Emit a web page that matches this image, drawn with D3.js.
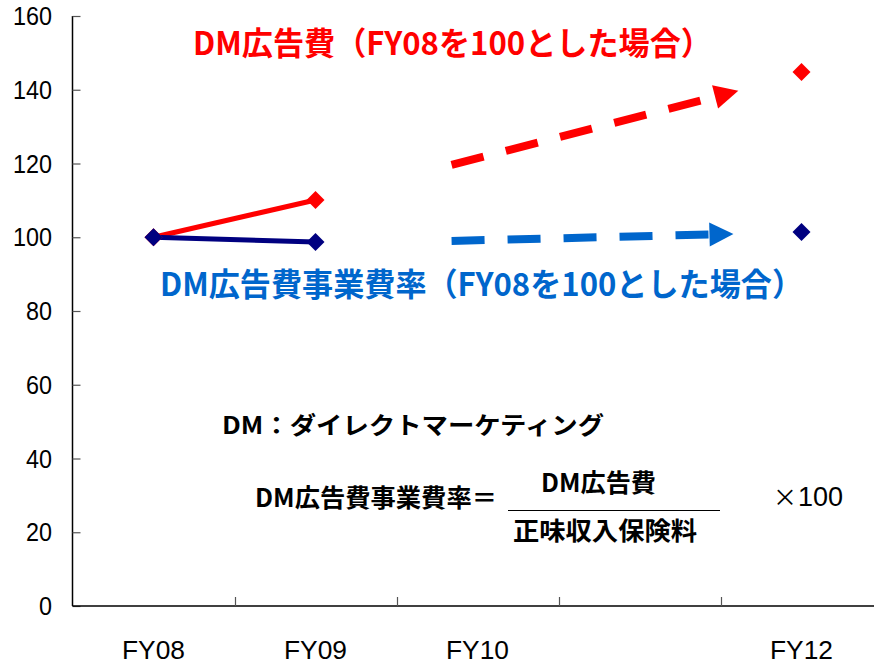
<!DOCTYPE html>
<html>
<head>
<meta charset="utf-8">
<script src="https://cdn.jsdelivr.net/npm/d3@7/dist/d3.min.js"></script>
<style>
  html, body { margin: 0; padding: 0; background: #fff; }
  svg { display: block; }
  .jp { font-family: "Noto Sans CJK JP", "Noto Sans", sans-serif; font-weight: 700; }
  .num { font-family: "Liberation Sans", Arial, sans-serif; }
</style>
</head>
<body>
<svg id="chart" width="874" height="665"></svg>
<script>
// Fiscal years on the x axis (FY11 slot is left unlabelled)
const years = ["FY08", "FY09", "FY10", "FY11", "FY12"];
const yearLabels = ["FY08", "FY09", "FY10", "", "FY12"];
const yTicks = [0, 20, 40, 60, 80, 100, 120, 140, 160];

// DM advertising cost, FY08 = 100
const adCostYears = ["FY08", "FY09"];
const adCost = [100, 110.1];
const adCostTargetYear = "FY12";
const adCostTarget = 144.8;

// DM advertising cost / operating expense ratio, FY08 = 100
const ratioYears = ["FY08", "FY09"];
const ratio = [100, 98.7];
const ratioTargetYear = "FY12";
const ratioTarget = 101.4;

// Trend arrows: [start index, start value, tip index, tip value]
const adCostArrow = [1.84, 119.6, 3.61, 139.7];
const ratioArrow = [1.84, 99.0, 3.58, 100.9];

const svg = d3.select("#chart");

const x = d3.scaleBand().domain(years).range([72.5, 882.5]);
const xi = d3.scaleLinear().domain([-0.5, years.length - 0.5]).range([72.5, 882.5]);
const y = d3.scaleLinear().domain([0, 160]).range([606, 16]);
const cx = yr => x(yr) + x.bandwidth() / 2;

// Axes
const yAxis = svg.append("g").attr("transform", "translate(72.5,0)")
  .call(d3.axisRight(y).tickValues(yTicks).tickSize(8).tickFormat(""));
yAxis.select(".domain").attr("d", `M0,${y(160)}V${y(0)}`).attr("stroke", "#000").attr("stroke-width", 1.5);
yAxis.selectAll(".tick line").attr("stroke", "#555").attr("stroke-width", 1.2);

svg.append("g").selectAll("text").data(yTicks).join("text")
  .attr("class", "num")
  .attr("x", 52).attr("y", d => y(d))
  .attr("dy", "0.36em")
  .attr("text-anchor", "end")
  .attr("font-size", 25)
  .attr("fill", "#000")
  .attr("textLength", d => String(d).length * 13)
  .attr("lengthAdjust", "spacingAndGlyphs")
  .text(d => d);

const bounds = years.slice(1).map(yr => x(yr));
svg.append("line")
  .attr("x1", 72.5).attr("x2", 874).attr("y1", y(0)).attr("y2", y(0))
  .attr("stroke", "#000").attr("stroke-width", 1.5);
svg.append("g").selectAll("line").data(bounds).join("line")
  .attr("x1", d => Math.round(d) + 0.5).attr("x2", d => Math.round(d) + 0.5)
  .attr("y1", y(0)).attr("y2", y(0) - 9)
  .attr("stroke", "#555").attr("stroke-width", 1.2);

svg.append("g").selectAll("text").data(years.filter((d, i) => yearLabels[i])).join("text")
  .attr("class", "num")
  .attr("x", d => cx(d)).attr("y", 650)
  .attr("dy", "0.36em")
  .attr("text-anchor", "middle")
  .attr("font-size", 25)
  .attr("fill", "#000")
  .attr("textLength", 63)
  .attr("lengthAdjust", "spacingAndGlyphs")
  .text(d => yearLabels[years.indexOf(d)]);

// Solid lines for actuals
const line = d3.line().x(d => cx(d[0])).y(d => y(d[1]));
svg.append("path")
  .datum(adCostYears.map((yr, i) => [yr, adCost[i]]))
  .attr("d", line).attr("fill", "none").attr("stroke", "#ff0000").attr("stroke-width", 5);
svg.append("path")
  .datum(ratioYears.map((yr, i) => [yr, ratio[i]]))
  .attr("d", line).attr("fill", "none").attr("stroke", "#000080").attr("stroke-width", 5);

// Diamond markers
const diamond = r => `M0,${-r}L${r},0L0,${r}L${-r},0Z`;
function markers(yrs, vals, color) {
  svg.append("g").selectAll("path").data(yrs.map((yr, i) => [yr, vals[i]])).join("path")
    .attr("d", diamond(9))
    .attr("transform", d => `translate(${cx(d[0])},${y(d[1])})`)
    .attr("fill", color);
}
markers(adCostYears.concat([adCostTargetYear]), adCost.concat([adCostTarget]), "#ff0000");
markers(ratioYears, ratio, "#000080");
markers([ratioTargetYear], [ratioTarget], "#000080");

// Dashed trend arrows
function arrow(a, color) {
  const x0 = xi(a[0]), y0 = y(a[1]), x1 = xi(a[2]), y1 = y(a[3]);
  const ang = Math.atan2(y1 - y0, x1 - x0);
  const head = 24, half = 12;
  const bx = x1 - head * Math.cos(ang), by = y1 - head * Math.sin(ang);
  svg.append("line")
    .attr("x1", x0).attr("y1", y0).attr("x2", bx).attr("y2", by)
    .attr("stroke", color).attr("stroke-width", 8)
    .attr("stroke-dasharray", "33,23");
  const px = -Math.sin(ang) * half, py = Math.cos(ang) * half;
  svg.append("path")
    .attr("d", `M${x1},${y1}L${bx + px},${by + py}L${bx - px},${by - py}Z`)
    .attr("fill", color);
}
arrow(adCostArrow, "#ff0000");
arrow(ratioArrow, "#0066cc");

// Annotations
function label(txt, xPos, yPos, size, width, color, anchor) {
  svg.append("text")
    .attr("class", "jp")
    .attr("x", xPos).attr("y", yPos)
    .attr("dy", "0.36em")
    .attr("text-anchor", anchor || "start")
    .attr("font-size", size)
    .attr("fill", color)
    .attr("textLength", width)
    .attr("lengthAdjust", "spacingAndGlyphs")
    .text(txt);
}
label("DM広告費（FY08を100とした場合）", 193, 43, 32, 519, "#ff0000");
label("DM広告費事業費率（FY08を100とした場合）", 160, 284, 32, 643, "#0066cc");
label("DM：ダイレクトマーケティング", 222, 425, 24, 382, "#000");
label("DM広告費事業費率＝", 255, 498, 25, 242, "#000");
label("DM広告費", 541, 483, 25, 115, "#000");
label("正味収入保険料", 513, 531, 25, 184, "#000");
svg.append("line")
  .attr("x1", 508).attr("x2", 720).attr("y1", 510.5).attr("y2", 510.5)
  .attr("stroke", "#000").attr("stroke-width", 1.2);

// Multiplier beside the fraction
const mult = svg.append("text")
  .attr("x", 773).attr("y", 500).attr("dy", "0.36em")
  .attr("fill", "#000");
mult.append("tspan")
  .attr("font-family", "'Noto Sans CJK JP', sans-serif")
  .attr("font-size", 24)
  .text("×");
mult.append("tspan")
  .attr("class", "num")
  .attr("font-size", 27)
  .attr("dx", 1)
  .text("100");
</script>
</body>
</html>
